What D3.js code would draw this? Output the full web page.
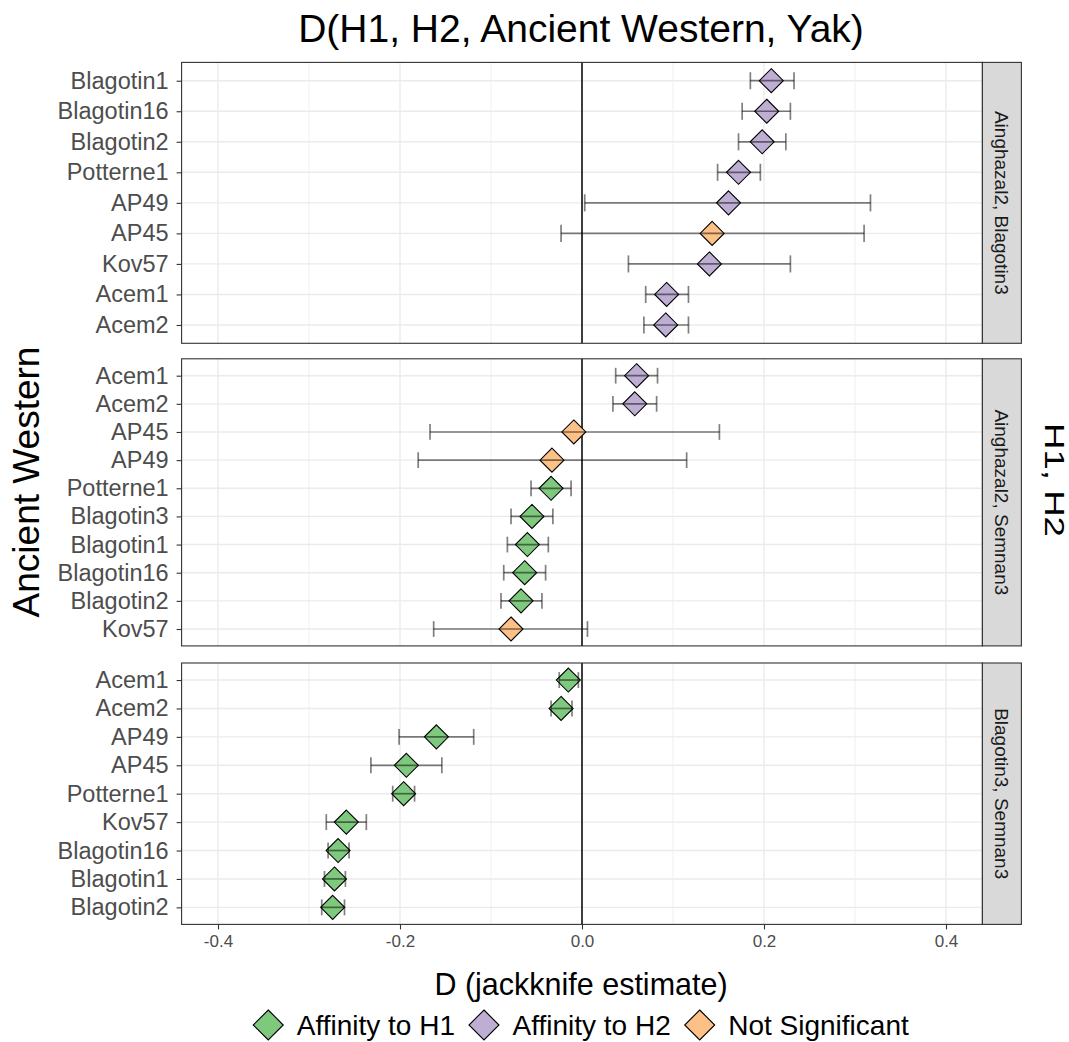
<!DOCTYPE html>
<html>
<head>
<meta charset="utf-8">
<script src="https://cdn.jsdelivr.net/npm/d3@7"></script>
<style>
  body { margin: 0; background: #fff; }
  text { font-family: "Liberation Sans", Arial, Helvetica, sans-serif; }
</style>
</head>
<body>
<div id="chart"></div>
<script>
// facet labels (H1, H2)
const panels = ["Ainghazal2, Blagotin3", "Ainghazal2, Semnan3", "Blagotin3, Semnan3"];

// panel 1: Ainghazal2, Blagotin3
const p1Names = ["Blagotin1", "Blagotin16", "Blagotin2", "Potterne1", "AP49", "AP45", "Kov57", "Acem1", "Acem2"];
const p1D     = [0.208, 0.203, 0.198, 0.172, 0.161, 0.143, 0.140, 0.093, 0.092];
const p1Lo    = [0.185, 0.176, 0.172, 0.149, 0.003, -0.023, 0.051, 0.070, 0.068];
const p1Hi    = [0.233, 0.229, 0.224, 0.196, 0.317, 0.310, 0.229, 0.117, 0.117];
const p1Group = ["H2", "H2", "H2", "H2", "H2", "NS", "H2", "H2", "H2"];

// panel 2: Ainghazal2, Semnan3
const p2Names = ["Acem1", "Acem2", "AP45", "AP49", "Potterne1", "Blagotin3", "Blagotin1", "Blagotin16", "Blagotin2", "Kov57"];
const p2D     = [0.060, 0.058, -0.009, -0.033, -0.034, -0.055, -0.060, -0.063, -0.067, -0.078];
const p2Lo    = [0.037, 0.034, -0.167, -0.180, -0.056, -0.078, -0.082, -0.086, -0.089, -0.163];
const p2Hi    = [0.083, 0.082, 0.151, 0.115, -0.012, -0.032, -0.037, -0.040, -0.044, 0.006];
const p2Group = ["H2", "H2", "NS", "NS", "H1", "H1", "H1", "H1", "H1", "NS"];

// panel 3: Blagotin3, Semnan3
const p3Names = ["Acem1", "Acem2", "AP49", "AP45", "Potterne1", "Kov57", "Blagotin16", "Blagotin1", "Blagotin2"];
const p3D     = [-0.015, -0.023, -0.160, -0.193, -0.196, -0.259, -0.268, -0.272, -0.274];
const p3Lo    = [-0.025, -0.034, -0.201, -0.232, -0.208, -0.281, -0.279, -0.283, -0.286];
const p3Hi    = [-0.004, -0.011, -0.119, -0.154, -0.184, -0.237, -0.256, -0.260, -0.261];
const p3Group = ["H1", "H1", "H1", "H1", "H1", "H1", "H1", "H1", "H1"];

const groups = ["H1", "H2", "NS"];
const groupLabels = ["Affinity to H1", "Affinity to H2", "Not Significant"];
const groupColors = ["#7fc97f", "#beaed4", "#fdc086"];

const xMajor = [-0.4, -0.2, 0.0, 0.2, 0.4];
const xMinor = [-0.3, -0.1, 0.1, 0.3];

const panelData = [
  {names: p1Names, d: p1D, lo: p1Lo, hi: p1Hi, grp: p1Group},
  {names: p2Names, d: p2D, lo: p2Lo, hi: p2Hi, grp: p2Group},
  {names: p3Names, d: p3D, lo: p3Lo, hi: p3Hi, grp: p3Group}
];

const width = 1069, height = 1042;
const panelLeft = 181.6, panelRight = 982.4, stripW = 39;
const panelBoxes = [[62.4, 343.3], [358.8, 645.9], [663, 924.4]];

const x = d3.scaleLinear().domain([-0.44, 0.44]).range([panelLeft, panelRight]);
const color = d3.scaleOrdinal().domain(groups).range(groupColors);

const svg = d3.select("#chart").append("svg")
  .attr("width", width)
  .attr("height", height)
  .attr("viewBox", [0, 0, width, height]);

svg.append("rect").attr("width", width).attr("height", height).attr("fill", "#fff");

const diamond = r => `M0,${-r}L${r},0L0,${r}L${-r},0Z`;

panelData.forEach((p, i) => {
  const [top, bottom] = panelBoxes[i];
  const y = d3.scalePoint().domain(p.names).range([top, bottom]).padding(0.6);
  const step = y.step();
  const rows = p.names.map((n, j) => ({name: n, d: p.d[j], lo: p.lo[j], hi: p.hi[j], grp: p.grp[j]}));

  const g = svg.append("g");

  // grid
  g.append("g").selectAll("line").data(xMinor).join("line")
    .attr("x1", d => x(d)).attr("x2", d => x(d))
    .attr("y1", top).attr("y2", bottom)
    .attr("stroke", "#ebebeb").attr("stroke-width", 0.8);
  g.append("g").selectAll("line").data(xMajor).join("line")
    .attr("x1", d => x(d)).attr("x2", d => x(d))
    .attr("y1", top).attr("y2", bottom)
    .attr("stroke", "#ebebeb").attr("stroke-width", 1.4);
  g.append("g").selectAll("line").data(p.names).join("line")
    .attr("x1", panelLeft).attr("x2", panelRight)
    .attr("y1", d => y(d)).attr("y2", d => y(d))
    .attr("stroke", "#ebebeb").attr("stroke-width", 1.4);

  // zero line
  g.append("line")
    .attr("x1", x(0)).attr("x2", x(0))
    .attr("y1", top).attr("y2", bottom)
    .attr("stroke", "#000").attr("stroke-width", 1.5);

  // points
  g.append("g").selectAll("path").data(rows).join("path")
    .attr("transform", d => `translate(${x(d.d)},${y(d.name)})`)
    .attr("d", diamond(12))
    .attr("fill", d => color(d.grp))
    .attr("stroke", "#000").attr("stroke-width", 1.1);

  // error bars
  const eb = g.append("g").attr("stroke", "#000").attr("stroke-opacity", 0.5).attr("stroke-width", 1.7);
  const cap = step * 0.28;
  eb.selectAll(".bar").data(rows).join("line").attr("class", "bar")
    .attr("x1", d => x(d.lo)).attr("x2", d => x(d.hi))
    .attr("y1", d => y(d.name)).attr("y2", d => y(d.name));
  eb.selectAll(".lo").data(rows).join("line").attr("class", "lo")
    .attr("x1", d => x(d.lo)).attr("x2", d => x(d.lo))
    .attr("y1", d => y(d.name) - cap).attr("y2", d => y(d.name) + cap);
  eb.selectAll(".hi").data(rows).join("line").attr("class", "hi")
    .attr("x1", d => x(d.hi)).attr("x2", d => x(d.hi))
    .attr("y1", d => y(d.name) - cap).attr("y2", d => y(d.name) + cap);

  // panel border
  g.append("rect")
    .attr("x", panelLeft).attr("y", top)
    .attr("width", panelRight - panelLeft).attr("height", bottom - top)
    .attr("fill", "none").attr("stroke", "#333").attr("stroke-width", 1.1);

  // y axis
  const yAxis = g.append("g")
    .attr("transform", `translate(${panelLeft},0)`)
    .call(d3.axisLeft(y).tickSize(5).tickPadding(8));
  yAxis.select(".domain").remove();
  yAxis.selectAll(".tick line").attr("stroke", "#333").attr("stroke-width", 1.1);
  yAxis.selectAll(".tick text")
    .attr("fill", "#4d4d4d")
    .style("font-size", "23.5px")
    .attr("font-family", null);

  // strip
  g.append("rect")
    .attr("x", panelRight).attr("y", top)
    .attr("width", stripW).attr("height", bottom - top)
    .attr("fill", "#d9d9d9").attr("stroke", "#333").attr("stroke-width", 1.1);
  g.append("text")
    .attr("transform", `translate(${panelRight + stripW / 2},${(top + bottom) / 2}) rotate(90)`)
    .attr("text-anchor", "middle")
    .attr("dy", "0.35em")
    .attr("fill", "#1a1a1a")
    .style("font-size", "19px")
    .text(panels[i]);

  // x axis on the bottom panel
  if (i === panelData.length - 1) {
    const xAxis = g.append("g")
      .attr("transform", `translate(0,${bottom})`)
      .call(d3.axisBottom(x).tickValues(xMajor).tickFormat(d3.format(".1f")).tickSize(5).tickPadding(6));
    xAxis.select(".domain").remove();
    xAxis.selectAll(".tick line").attr("stroke", "#333").attr("stroke-width", 1.1);
    xAxis.selectAll(".tick text")
      .attr("fill", "#4d4d4d")
      .style("font-size", "17px")
      .attr("font-family", null)
      .text(d => d3.format(".1f")(d).replace("−", "-"));
  }
});

// titles
svg.append("text")
  .attr("x", 581).attr("y", 42)
  .attr("text-anchor", "middle")
  .style("font-size", "39px")
  .text("D(H1, H2, Ancient Western, Yak)");

svg.append("text")
  .attr("x", 581).attr("y", 995)
  .attr("text-anchor", "middle")
  .style("font-size", "30.5px")
  .text("D (jackknife estimate)");

svg.append("text")
  .attr("transform", "translate(39,482) rotate(-90)")
  .attr("text-anchor", "middle")
  .style("font-size", "37px")
  .text("Ancient Western");

svg.append("text")
  .attr("transform", "translate(1045,480) rotate(90)")
  .attr("text-anchor", "middle")
  .style("font-size", "27px")
  .attr("textLength", 114)
  .attr("lengthAdjust", "spacingAndGlyphs")
  .text("H1, H2");

// legend
const legend = svg.append("g");
const keyR = 15, keyGap = 13.5, itemGap = 14, legendY = 1025;
let cursor = 0;
groups.forEach((grp, i) => {
  const item = legend.append("g").attr("transform", `translate(${cursor},0)`);
  item.append("path")
    .attr("transform", `translate(${keyR},${legendY})`)
    .attr("d", diamond(keyR))
    .attr("fill", color(grp))
    .attr("stroke", "#000").attr("stroke-width", 1.1);
  const t = item.append("text")
    .attr("x", 2 * keyR + keyGap).attr("y", legendY)
    .attr("dy", "0.36em")
    .style("font-size", "28px")
    .text(groupLabels[i]);
  cursor += 2 * keyR + keyGap + t.node().getComputedTextLength() + itemGap;
});
const legendW = cursor - itemGap;
legend.attr("transform", `translate(${581 - legendW / 2},0)`);
</script>
</body>
</html>
